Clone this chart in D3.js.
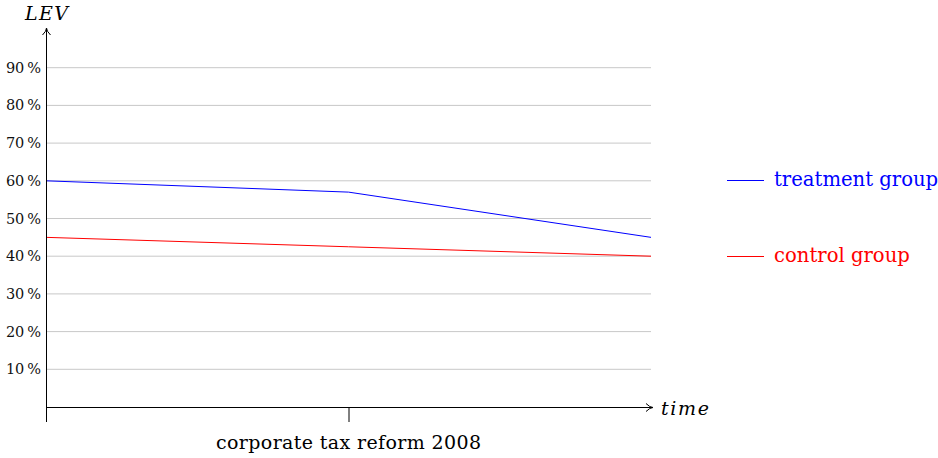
<!DOCTYPE html>
<html><head><meta charset="utf-8">
<script src="https://cdn.jsdelivr.net/npm/d3@7"></script>
<style>body{margin:0;background:#fff}svg{display:block}text{font-family:"DejaVu Serif",serif}</style>
</head><body><svg id="c" width="938" height="458"></svg>
<script>
const times = [0, 1, 2];
const treatment = [60, 57, 45];
const control = [45, 42.5, 40];
const yTicks = [10, 20, 30, 40, 50, 60, 70, 80, 90];
const seriesNames = ["treatment group", "control group"];
const seriesColors = ["#0000ff", "#ff0000"];
const eventLabel = "corporate tax reform 2008";

const svg = d3.select("#c");
const x = d3.scaleLinear().domain([0, 2]).range([46, 651]);
const y = d3.scaleLinear().domain([0, 100]).range([407, 30]);

// gridlines
svg.append("g").selectAll("line").data(yTicks).join("line")
  .attr("x1", x(0)).attr("x2", x(2))
  .attr("y1", d => y(d)).attr("y2", d => y(d))
  .attr("stroke", "#c8c8c8").attr("stroke-width", 1);

// tick labels
svg.append("g").selectAll("text").data(yTicks).join("text")
  .attr("x", 41).attr("y", d => y(d)).attr("dy", "0.35em")
  .attr("text-anchor", "end").attr("font-size", 14.5).attr("fill", "#111")
  .text(d => d + "\u2009%");

// series
const line = d3.line().x((d, i) => x(times[i])).y(d => y(d));
[treatment, control].forEach((s, k) => {
  svg.append("path").datum(s).attr("d", line)
    .attr("fill", "none").attr("stroke", seriesColors[k]).attr("stroke-width", 1);
});

// axes
const ax = svg.append("g").attr("stroke", "#000").attr("fill", "none").attr("stroke-width", 1);
ax.append("line").attr("x1", 46.5).attr("x2", 46.5).attr("y1", 422).attr("y2", 29);
ax.append("path").attr("d", `M${42.5},${35} Q${46.5},${31} ${46.5},${28} Q${46.5},${31} ${50.5},${35}`);
ax.append("line").attr("x1", 46).attr("x2", 652).attr("y1", 407.5).attr("y2", 407.5);
ax.append("path").attr("d", `M${646},${403.5} Q${650},${407.5} ${653},${407.5} Q${650},${407.5} ${646},${411.5}`);
ax.append("line").attr("x1", x(1) + 0.5).attr("x2", x(1) + 0.5).attr("y1", 407).attr("y2", 422);

svg.append("text").attr("x", 25).attr("y", 20).attr("font-size", 19).attr("font-style", "italic")
  .attr("textLength", 43).text("LEV");
svg.append("text").attr("x", 661).attr("y", 415).attr("font-size", 19).attr("font-style", "italic")
  .attr("textLength", 48).text("time");
svg.append("text").attr("x", x(1)).attr("y", 449).attr("text-anchor", "middle").attr("font-size", 19)
  .attr("textLength", 265).text(eventLabel);

// legend
const lg = svg.append("g").selectAll("g").data(seriesNames).join("g")
  .attr("transform", (d, i) => `translate(0,${180 + i * 76})`);
lg.append("line").attr("x1", 727).attr("x2", 764).attr("y1", 0.5).attr("y2", 0.5)
  .attr("stroke", (d, i) => seriesColors[i]).attr("stroke-width", 1);
lg.append("text").attr("x", 774).attr("y", 6).attr("font-size", 19.6)
  .attr("fill", (d, i) => seriesColors[i]).text(d => d);
</script></body></html>
